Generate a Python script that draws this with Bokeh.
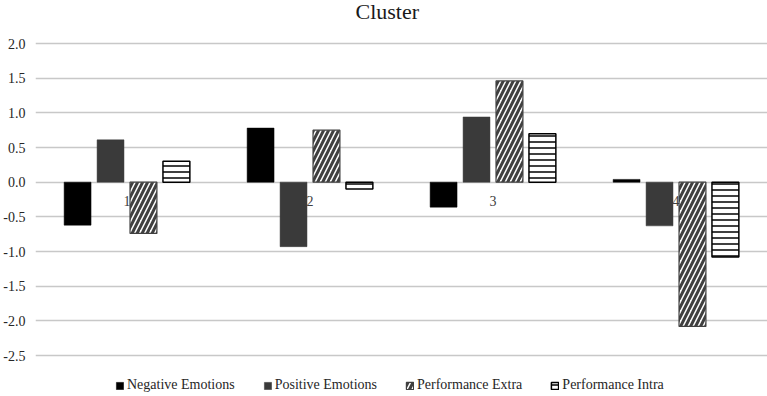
from bokeh.plotting import figure
from bokeh.models import (FactorRange, Range1d, FixedTicker, NumeralTickFormatter,
                          Legend, LegendItem, ColumnDataSource, Label)
from bokeh.transform import dodge
from bokeh.embed import file_html
from bokeh.resources import INLINE

# Cluster means of the four standardized measures
clusters = ["1", "2", "3", "4"]
negative_emotions = [-0.62, 0.78, -0.36, 0.04]
positive_emotions = [0.61, -0.93, 0.94, -0.63]
performance_extra = [-0.74, 0.75, 1.46, -2.08]
performance_intra = [0.30, -0.10, 0.70, -1.08]
y_ticks = [-2.5, -2.0, -1.5, -1.0, -0.5, 0.0, 0.5, 1.0, 1.5, 2.0]

SERIF = "Liberation Serif"
H = 396
TOP_PAD, BOTTOM_PAD = 43, 41          # room for the title and the legend
px_per_unit = (H - TOP_PAD - BOTTOM_PAD) / (y_ticks[-1] - y_ticks[0])

src = ColumnDataSource(dict(
    cluster=clusters,
    neg=negative_emotions,
    pos=positive_emotions,
    ext=performance_extra,
    intra=performance_intra,
    zero=[0.0] * len(clusters),
))

p = figure(
    width=767, height=H,
    x_range=FactorRange(*clusters, range_padding=0),
    y_range=Range1d(y_ticks[0] - BOTTOM_PAD / px_per_unit,
                    y_ticks[-1] + TOP_PAD / px_per_unit),
    output_backend="svg", toolbar_location=None,
    min_border_left=35, min_border_right=0,
    min_border_top=0, min_border_bottom=0,
)
p.outline_line_color = None
p.background_fill_color = "white"
p.border_fill_color = "white"

# Axes and grid
p.xaxis.visible = False
p.xgrid.visible = False
p.yaxis.ticker = FixedTicker(ticks=y_ticks)
p.yaxis.formatter = NumeralTickFormatter(format="0.0")
p.yaxis.axis_line_color = None
p.yaxis.major_tick_line_color = None
p.yaxis.minor_tick_line_color = None
p.yaxis.major_tick_out = 0
p.yaxis.major_tick_in = 0
p.yaxis.minor_tick_out = 0
p.yaxis.minor_tick_in = 0
p.yaxis.major_label_standoff = 10
p.yaxis.major_label_text_font = SERIF
p.yaxis.major_label_text_font_size = "14px"
p.yaxis.major_label_text_color = "#262626"
p.ygrid.ticker = FixedTicker(ticks=y_ticks)
p.ygrid.grid_line_color = "#c8c8c8"
p.ygrid.grid_line_width = 1.5

W = 0.147
r_neg = p.vbar(x=dodge("cluster", -0.27, range=p.x_range), top="neg", bottom=0, width=W,
               source=src, fill_color="black", line_color="black", line_width=0.5)
r_pos = p.vbar(x=dodge("cluster", -0.09, range=p.x_range), top="pos", bottom=0, width=W,
               source=src, fill_color="#3a3a3a", line_color="#3a3a3a", line_width=0.5)
r_ext = p.vbar(x=dodge("cluster", 0.09, range=p.x_range), top="ext", bottom=0, width=W,
               source=src, fill_color="white", line_color="#404040", line_width=1.2,
               hatch_pattern="/", hatch_color="#404040", hatch_weight=3, hatch_scale=10)
r_int = p.vbar(x=dodge("cluster", 0.27, range=p.x_range), top="intra", bottom=0, width=W,
               source=src, fill_color="white", line_color="black", line_width=1.5,
               hatch_pattern="-", hatch_color="black", hatch_weight=1.5, hatch_scale=6)

# Category labels sit just below the zero line
p.text(x="cluster", y="zero", text="cluster", source=src, y_offset=19,
       text_align="center", text_baseline="middle",
       text_font=SERIF, text_font_size="14px", text_color="#404040")

# Title
p.add_layout(Label(x=320, y=H - 11, x_units="screen", y_units="screen",
                   text="Cluster", text_font=SERIF, text_font_size="22px",
                   text_color="#1a1a1a", text_baseline="alphabetic"))

legend = Legend(items=[
    LegendItem(label="Negative Emotions", renderers=[r_neg]),
    LegendItem(label="Positive Emotions", renderers=[r_pos]),
    LegendItem(label="Performance Extra", renderers=[r_ext]),
    LegendItem(label="Performance Intra", renderers=[r_int]),
], orientation="horizontal", location=(80, 3))
legend.label_text_font = SERIF
legend.label_text_font_size = "14px"
legend.label_text_color = "#262626"
legend.glyph_width = 9
legend.glyph_height = 9
legend.label_standoff = 3
legend.spacing = 28
legend.padding = 0
legend.margin = 0
legend.border_line_color = None
legend.background_fill_alpha = 0
p.add_layout(legend, "center")

open("out.html", "w").write(file_html(p, INLINE))
